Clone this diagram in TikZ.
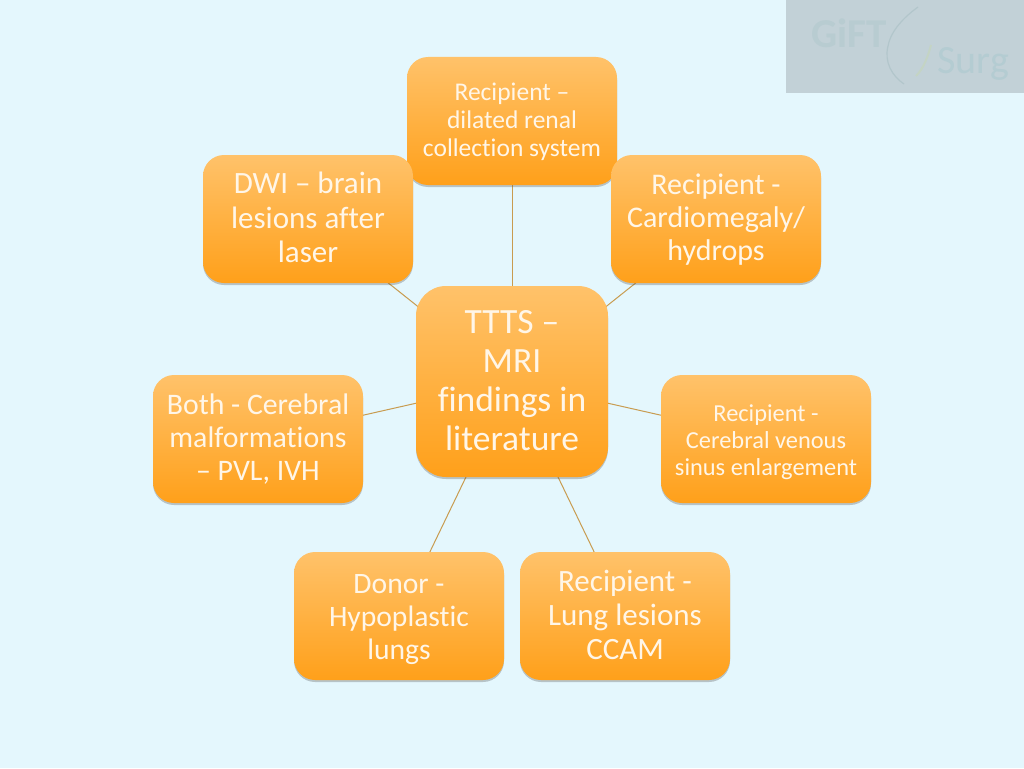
\documentclass[tikz,border=0pt]{standalone}
\usepackage{fontspec}
\setmainfont[RawFeature=-liga]{Carlito}
\usetikzlibrary{shadows,backgrounds}
\definecolor{bgc}{HTML}{E4F7FD}
\definecolor{logobg}{HTML}{C2D1D7}
\definecolor{logotx}{HTML}{B8CCD1}
\definecolor{logosg}{HTML}{B4CCD2}
\definecolor{logoarc}{HTML}{B2C6CB}
\definecolor{logosw}{HTML}{C4D4C4}
\definecolor{boxtop}{HTML}{FFC26A}
\definecolor{boxbot}{HTML}{FFA01A}
\definecolor{linkc}{HTML}{C89C50}
\definecolor{txtc}{HTML}{FFF6E8}
\tikzset{
  card/.style={rectangle,rounded corners=21pt,top color=boxtop,bottom color=boxbot,
    inner sep=0pt,minimum width=210pt,minimum height=128pt,
    drop shadow={shadow xshift=0pt,shadow yshift=-2pt,opacity=.3,fill=black!70}},
  lbl/.style={text=txtc,align=center,inner sep=0pt},
  link/.style={draw=linkc,line width=1pt},
  sz/.style 2 args={font=\fontsize{#1pt}{#2pt}\selectfont}
}
\begin{document}
\begin{tikzpicture}[x=1pt,y=-1pt]
\useasboundingbox (0,0) rectangle (1024,768);
\node[text=logotx,font=\fontsize{41pt}{41pt}\bfseries\selectfont,inner sep=0pt] (logoa) at (849,33) {GiFT};
\node[text=logosg,font=\fontsize{40pt}{40pt}\selectfont,inner sep=0pt] (logob) at (973,64) {Surg};
\draw[logoarc,line width=1.2pt] (918,7) .. controls (900,20) and (890,34) .. (888,46) .. controls (884,62) and (892,76) .. (904,84);
\draw[logosw,line width=2pt] (916,76) .. controls (924,68) and (928,56) .. (931,45);
\node[card] (top) at (512,121) {};
\node[lbl,sz={25.5}{28}] (toptxt) at (512,121.5) {Recipient –\\dilated renal\\collection system};
\node[card] (dwi) at (308,219) {};
\node[lbl,sz={31}{34.5}] (dwitxt) at (308,217.5) {DWI – brain\\lesions after\\laser};
\node[card] (card) at (716,219) {};
\node[lbl,sz={30}{33}] (cardtxt) at (716,220) {Recipient -\\Cardiomegaly/\\hydrops};
\node[card] (both) at (258,439) {};
\node[lbl,sz={29.8}{33}] (bothtxt) at (258,439.5) {Both - Cerebral\\malformations\\– PVL, IVH};
\node[card] (sinus) at (766,439) {};
\node[lbl,sz={24.4}{27}] (sinustxt) at (766,442) {Recipient -\\Cerebral venous\\sinus enlargement};
\node[card] (donor) at (399,616) {};
\node[lbl,sz={29.6}{33}] (donortxt) at (399,619.5) {Donor -\\Hypoplastic\\lungs};
\node[card] (lung) at (625,616) {};
\node[lbl,sz={31}{34}] (lungtxt) at (625,615) {Recipient -\\Lung lesions\\CCAM};
\node[card,rounded corners=30pt,minimum width=192pt,minimum height=191pt] (ttts) at (512,381.5) {};
\node[lbl,sz={35.5}{39}] (tttstxt) at (512,381) {TTTS –\\MRI\\findings in\\literature};
\begin{scope}[on background layer]
\fill[bgc] (0,0) rectangle (1024,768);
\fill[logobg] (786,0) rectangle (1024,93);
\draw[link] (ttts.center) -- (top.center);
\draw[link] (ttts.center) -- (dwi.center);
\draw[link] (ttts.center) -- (card.center);
\draw[link] (ttts.center) -- (both.center);
\draw[link] (ttts.center) -- (sinus.center);
\draw[link] (ttts.center) -- (donor.center);
\draw[link] (ttts.center) -- (lung.center);
\end{scope}
\end{tikzpicture}
\end{document}
